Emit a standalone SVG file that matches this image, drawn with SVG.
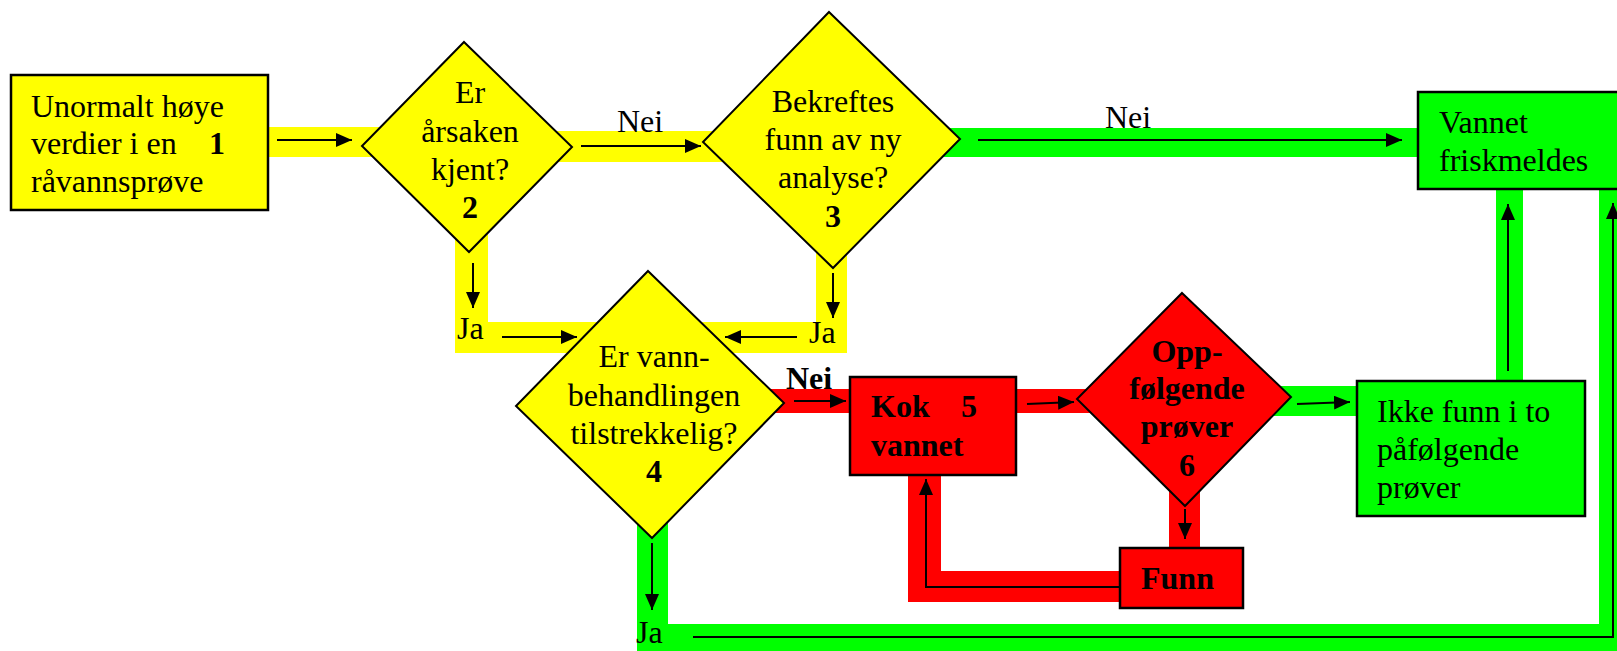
<svg xmlns="http://www.w3.org/2000/svg" width="1617" height="651" viewBox="0 0 1617 651">
<defs>
<marker id="ah" markerUnits="userSpaceOnUse" markerWidth="16" markerHeight="14" refX="16" refY="7" orient="auto">
<path d="M0,0 L16,7 L0,14 z" fill="#000"/>
</marker>
<style>
.y{fill:#ffff00}
.g{fill:#00ff00}
.r{fill:#ff0000}
.shape{stroke:#000;stroke-width:2.5}
.dia{stroke:#000;stroke-width:2}
.t{font-family:"Liberation Serif","Times New Roman",serif;font-size:32px;fill:#000}
.b{font-weight:bold}
.m{text-anchor:middle}
.c{fill:none;stroke:#000;stroke-width:2;marker-end:url(#ah)}
</style>
</defs>
<rect width="1617" height="651" fill="#fff"/>
<g id="bands">
<rect class="y" x="262" y="127" width="150" height="30"/>
<rect class="y" x="530" y="131" width="210" height="31"/>
<rect class="y" x="455" y="225" width="33" height="128"/>
<rect class="y" x="455" y="322" width="392" height="31"/>
<rect class="y" x="816" y="245" width="31" height="108"/>
<rect class="g" x="920" y="128" width="500" height="29"/>
<rect class="g" x="1496" y="187" width="27" height="196"/>
<rect class="g" x="1599" y="187" width="20" height="466"/>
<rect class="g" x="637" y="624" width="982" height="29"/>
<rect class="g" x="637" y="515" width="31" height="136"/>
<rect class="g" x="1250" y="386" width="108" height="30"/>
<rect class="r" x="760" y="389" width="92" height="24"/>
<rect class="r" x="1014" y="389" width="90" height="24"/>
<rect class="r" x="1169" y="480" width="31" height="70"/>
<rect class="r" x="908" y="473" width="33" height="129"/>
<rect class="r" x="908" y="571" width="214" height="31"/>
</g>
<g id="n1">
<rect class="y shape" x="11" y="75" width="257" height="135"/>
<text class="t" x="31" y="117">Unormalt høye</text>
<text class="t" x="31" y="154">verdier i en</text>
<text class="t b" x="209" y="154">1</text>
<text class="t" x="31" y="192">råvannsprøve</text>
</g>
<g id="n2">
<polygon class="y dia" points="464,42 572,147 469,252 362,146"/>
<text class="t m" x="470" y="103">Er</text>
<text class="t m" x="470" y="142">årsaken</text>
<text class="t m" x="470" y="180">kjent?</text>
<text class="t m b" x="470" y="218">2</text>
</g>
<g id="n3">
<polygon class="y dia" points="829,12 960,139 833,268 703,142"/>
<text class="t m" x="833" y="112">Bekreftes</text>
<text class="t m" x="833" y="150">funn av ny</text>
<text class="t m" x="833" y="188">analyse?</text>
<text class="t m b" x="833" y="227">3</text>
</g>
<g id="n7">
<rect class="g shape" x="1418" y="92" width="220" height="97"/>
<text class="t" x="1439" y="133">Vannet</text>
<text class="t" x="1439" y="171">friskmeldes</text>
</g>
<g id="n4">
<polygon class="y dia" points="648,271 784,403 652,538 516,406"/>
<text class="t m" x="654" y="367">Er vann-</text>
<text class="t m" x="654" y="406">behandlingen</text>
<text class="t m" x="654" y="444">tilstrekkelig?</text>
<text class="t m b" x="654" y="482">4</text>
</g>
<g id="n5">
<rect class="r shape" x="850" y="377" width="166" height="98"/>
<text class="t b" x="871" y="417">Kok</text>
<text class="t b" x="961" y="417">5</text>
<text class="t b" x="871" y="456">vannet</text>
</g>
<g id="n6">
<polygon class="r dia" points="1182,293 1291,397 1185,506 1077,399"/>
<text class="t m b" x="1187" y="362">Opp-</text>
<text class="t m b" x="1187" y="399">følgende</text>
<text class="t m b" x="1187" y="437">prøver</text>
<text class="t m b" x="1187" y="476">6</text>
</g>
<g id="n8">
<rect class="g shape" x="1357" y="381" width="228" height="135"/>
<text class="t" x="1377" y="422">Ikke funn i to</text>
<text class="t" x="1377" y="460">påfølgende</text>
<text class="t" x="1377" y="498">prøver</text>
</g>
<g id="n9">
<rect class="r shape" x="1120" y="548" width="123" height="60"/>
<text class="t b" x="1141" y="589">Funn</text>
</g>
<g id="connectors">
<line class="c" x1="277" y1="140" x2="352" y2="140"/>
<line class="c" x1="581" y1="146" x2="701" y2="146"/>
<line class="c" x1="978" y1="140" x2="1402" y2="140"/>
<line class="c" x1="473" y1="263" x2="473" y2="308"/>
<line class="c" x1="502" y1="337" x2="577" y2="337"/>
<line class="c" x1="833" y1="273" x2="833" y2="318"/>
<line class="c" x1="797" y1="337" x2="725" y2="337"/>
<line class="c" x1="794" y1="401" x2="846" y2="401"/>
<line class="c" x1="1027" y1="404" x2="1074" y2="402"/>
<line class="c" x1="1185" y1="509" x2="1185" y2="539"/>
<polyline class="c" points="1120,587 926,587 926,479"/>
<line class="c" x1="1297" y1="404" x2="1350" y2="402"/>
<line class="c" x1="1508" y1="371" x2="1508" y2="204"/>
<line class="c" x1="652" y1="543" x2="652" y2="610"/>
<polyline class="c" points="693,637 1613,637 1613,203"/>
<text class="t" x="617" y="132">Nei</text>
<text class="t" x="1105" y="128">Nei</text>
<text class="t" x="457" y="339">Ja</text>
<text class="t" x="809" y="343">Ja</text>
<text class="t b" x="786" y="389">Nei</text>
<text class="t" x="636" y="643">Ja</text>
</g>
</svg>
